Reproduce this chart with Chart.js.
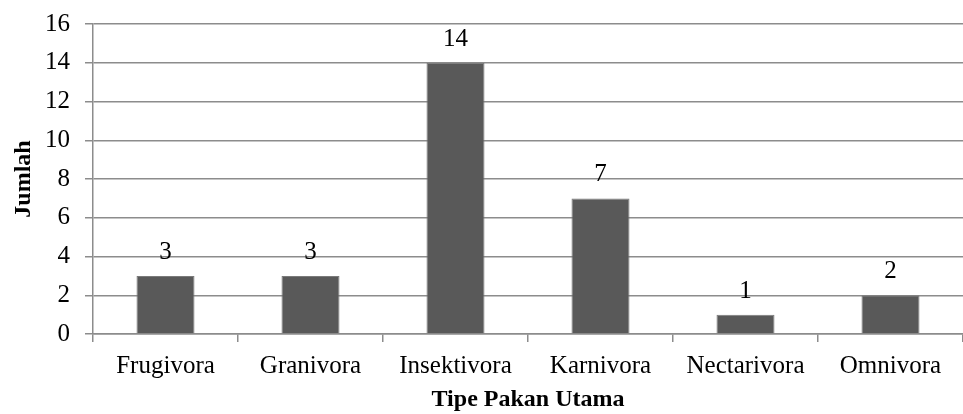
<!DOCTYPE html>
<html>
<head>
<meta charset="utf-8">
<script src="https://cdn.jsdelivr.net/npm/chart.js@4/dist/chart.umd.min.js"></script>
<style>
  html, body { margin: 0; padding: 0; background: #fff; }
  #wrap { width: 963px; height: 414px; }
</style>
</head>
<body>
<div id="wrap"><canvas id="c" width="963" height="414"></canvas></div>
<script>
const categories = ['Frugivora', 'Granivora', 'Insektivora', 'Karnivora', 'Nectarivora', 'Omnivora'];
const jumlah = [3, 3, 14, 7, 1, 2];
const yTicks = [0, 2, 4, 6, 8, 10, 12, 14, 16];

const FONT = "'Liberation Serif', 'Times New Roman', serif";
const GRID = '#8c8c8c';

// Writes each bar's value just above it
const valueLabels = {
  id: 'valueLabels',
  afterDatasetsDraw(chart) {
    const ctx = chart.ctx;
    const meta = chart.getDatasetMeta(0);
    ctx.save();
    ctx.font = '25px ' + FONT;
    ctx.fillStyle = '#000';
    ctx.textAlign = 'center';
    ctx.textBaseline = 'alphabetic';
    meta.data.forEach((bar, i) => {
      ctx.fillText(String(jumlah[i]), bar.x, bar.y - 17);
    });
    ctx.restore();
  }
};

new Chart(document.getElementById('c'), {
  type: 'bar',
  data: {
    labels: categories,
    datasets: [{
      data: jumlah,
      backgroundColor: '#595959',
      borderColor: '#7a7a7a',
      borderWidth: 1,
      categoryPercentage: 1,
      barPercentage: 0.4
    }]
  },
  options: {
    responsive: false,
    animation: false,
    layout: { padding: { top: 24, right: 0, bottom: 0, left: 0 } },
    plugins: { legend: { display: false }, tooltip: { enabled: false } },
    scales: {
      x: {
        offset: true,
        grid: { offset: true, drawOnChartArea: false, color: GRID, lineWidth: 1.5, tickLength: 8 },
        border: { color: GRID, width: 1.5 },
        ticks: { color: '#000', font: { family: FONT, size: 25 }, padding: 9, maxRotation: 0 },
        title: { display: true, text: 'Tipe Pakan Utama', color: '#000', font: { family: FONT, size: 24, weight: 'bold' }, padding: { top: 2, bottom: 0 } },
        afterFit(s) { s.height = 80; }
      },
      y: {
        min: 0,
        max: 16,
        afterBuildTicks(s) { s.ticks = yTicks.map(v => ({ value: v })); },
        grid: { color: GRID, lineWidth: 1.5, tickLength: 8 },
        border: { color: GRID, width: 1.5 },
        ticks: { color: '#000', font: { family: FONT, size: 25, lineHeight: 0.7 }, padding: 15 },
        title: { display: true, text: 'Jumlah', color: '#000', font: { family: FONT, size: 24, weight: 'bold' }, padding: { top: 9, bottom: 0 } },
        afterFit(s) { s.width = 93; }
      }
    }
  },
  plugins: [valueLabels]
});
</script>
</body>
</html>
